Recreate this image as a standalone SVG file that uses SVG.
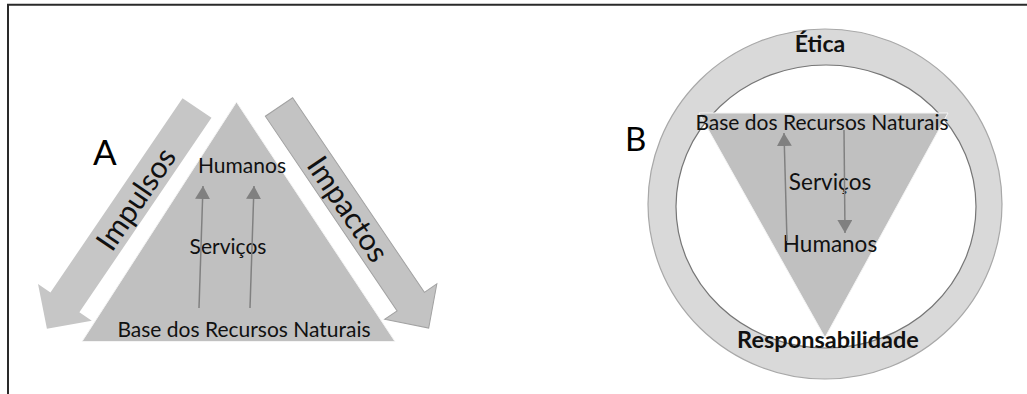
<svg xmlns="http://www.w3.org/2000/svg" width="1027" height="394" viewBox="0 0 1027 394">
  <style>
    .t { font-family: Lato, "Liberation Sans", sans-serif; fill: #111; }
    .tb { font-family: Lato, "Liberation Sans", sans-serif; font-weight: 700; fill: #111; }
    .big { font-family: Lato, "Liberation Sans", sans-serif; fill: #000; }
    .tri { fill: #c0c0c0; stroke: #f4f4f4; stroke-width: 1; }
    .band { fill: #c6c6c6; }
    .conn { stroke: #808080; stroke-width: 1.5; fill: none; marker-end: url(#ah); }
  </style>
  <defs>
    <marker id="ah" viewBox="0 0 13 15" refX="13" refY="7.5" markerWidth="13" markerHeight="15" orient="auto" markerUnits="userSpaceOnUse">
      <path d="M0,0 L13,7.5 L0,15 Z" fill="#808080"/>
    </marker>
  </defs>
  <rect x="0" y="0" width="1027" height="394" fill="#ffffff"/>
  <g id="frame">
    <path d="M1027,4.75 L8,4.75 L8,394" fill="none" stroke="#2a2a2a" stroke-width="2"/>
  </g>

  <!-- Panel A -->
  <g id="node-impulsos">
    <path class="band" transform="translate(197,108) rotate(124.2)" d="M0,-17.5 L235,-17.5 L235,-32.5 L267,0 L235,32.5 L235,17.5 L0,17.5 Z"/>
    <text class="t" transform="translate(136,199) rotate(-55.8)" x="0" y="10.5" font-size="30" text-anchor="middle">Impulsos</text>
  </g>
  <g id="node-impactos">
    <path transform="translate(279,107) rotate(55.9)" d="M0,-16.5 L235,-16.5 L235,-31.5 L267,0 L235,31.5 L235,16.5 L0,16.5 Z" fill="#c3c3c3" stroke="#a2a2a2" stroke-width="1"/>
    <text class="t" transform="translate(348,209) rotate(55.9)" x="0" y="10.5" font-size="30" text-anchor="middle">Impactos</text>
  </g>
  <g id="node-triangle-a">
    <polygon class="tri" points="236.5,102 395,341.5 82,341.5"/>
    <text class="t" x="242" y="173" font-size="21" text-anchor="middle">Humanos</text>
    <text class="t" x="228" y="254" font-size="21" text-anchor="middle">Serviços</text>
    <text class="t" x="244" y="337" font-size="21" text-anchor="middle">Base dos Recursos Naturais</text>
  </g>
  <g id="label-a">
    <text class="big" x="93" y="165" font-size="35">A</text>
  </g>

  <!-- Panel B -->
  <g id="node-ring">
    <ellipse cx="825" cy="204" rx="177" ry="175" fill="#d9d9d9" stroke="#a8a8a8" stroke-width="1.2"/>
    <ellipse cx="826" cy="206.5" rx="150" ry="141.5" fill="#ffffff" stroke="#767676" stroke-width="1.2"/>
    <text class="tb" x="820" y="52" font-size="23" text-anchor="middle">Ética</text>
  </g>
  <g id="node-triangle-b">
    <polygon class="tri" points="699,113 948,113 825,337.5"/>
    <text class="t" x="822" y="130" font-size="21" text-anchor="middle">Base dos Recursos Naturais</text>
    <text class="t" x="830" y="190" font-size="22.5" text-anchor="middle">Serviços</text>
    <text class="t" x="830" y="252" font-size="22.5" text-anchor="middle">Humanos</text>
  </g>
  <g id="label-responsabilidade">
    <text class="tb" x="828" y="348" font-size="23.5" text-anchor="middle">Responsabilidade</text>
  </g>
  <g id="label-b">
    <text class="big" x="625" y="151" font-size="33">B</text>
  </g>

  <g id="connectors">
    <line class="conn" x1="199" y1="308" x2="203" y2="186"/>
    <line class="conn" x1="250" y1="308" x2="254" y2="186"/>
    <line class="conn" x1="787" y1="241" x2="784" y2="133"/>
    <line class="conn" x1="844" y1="130" x2="845" y2="233"/>
  </g>
</svg>
